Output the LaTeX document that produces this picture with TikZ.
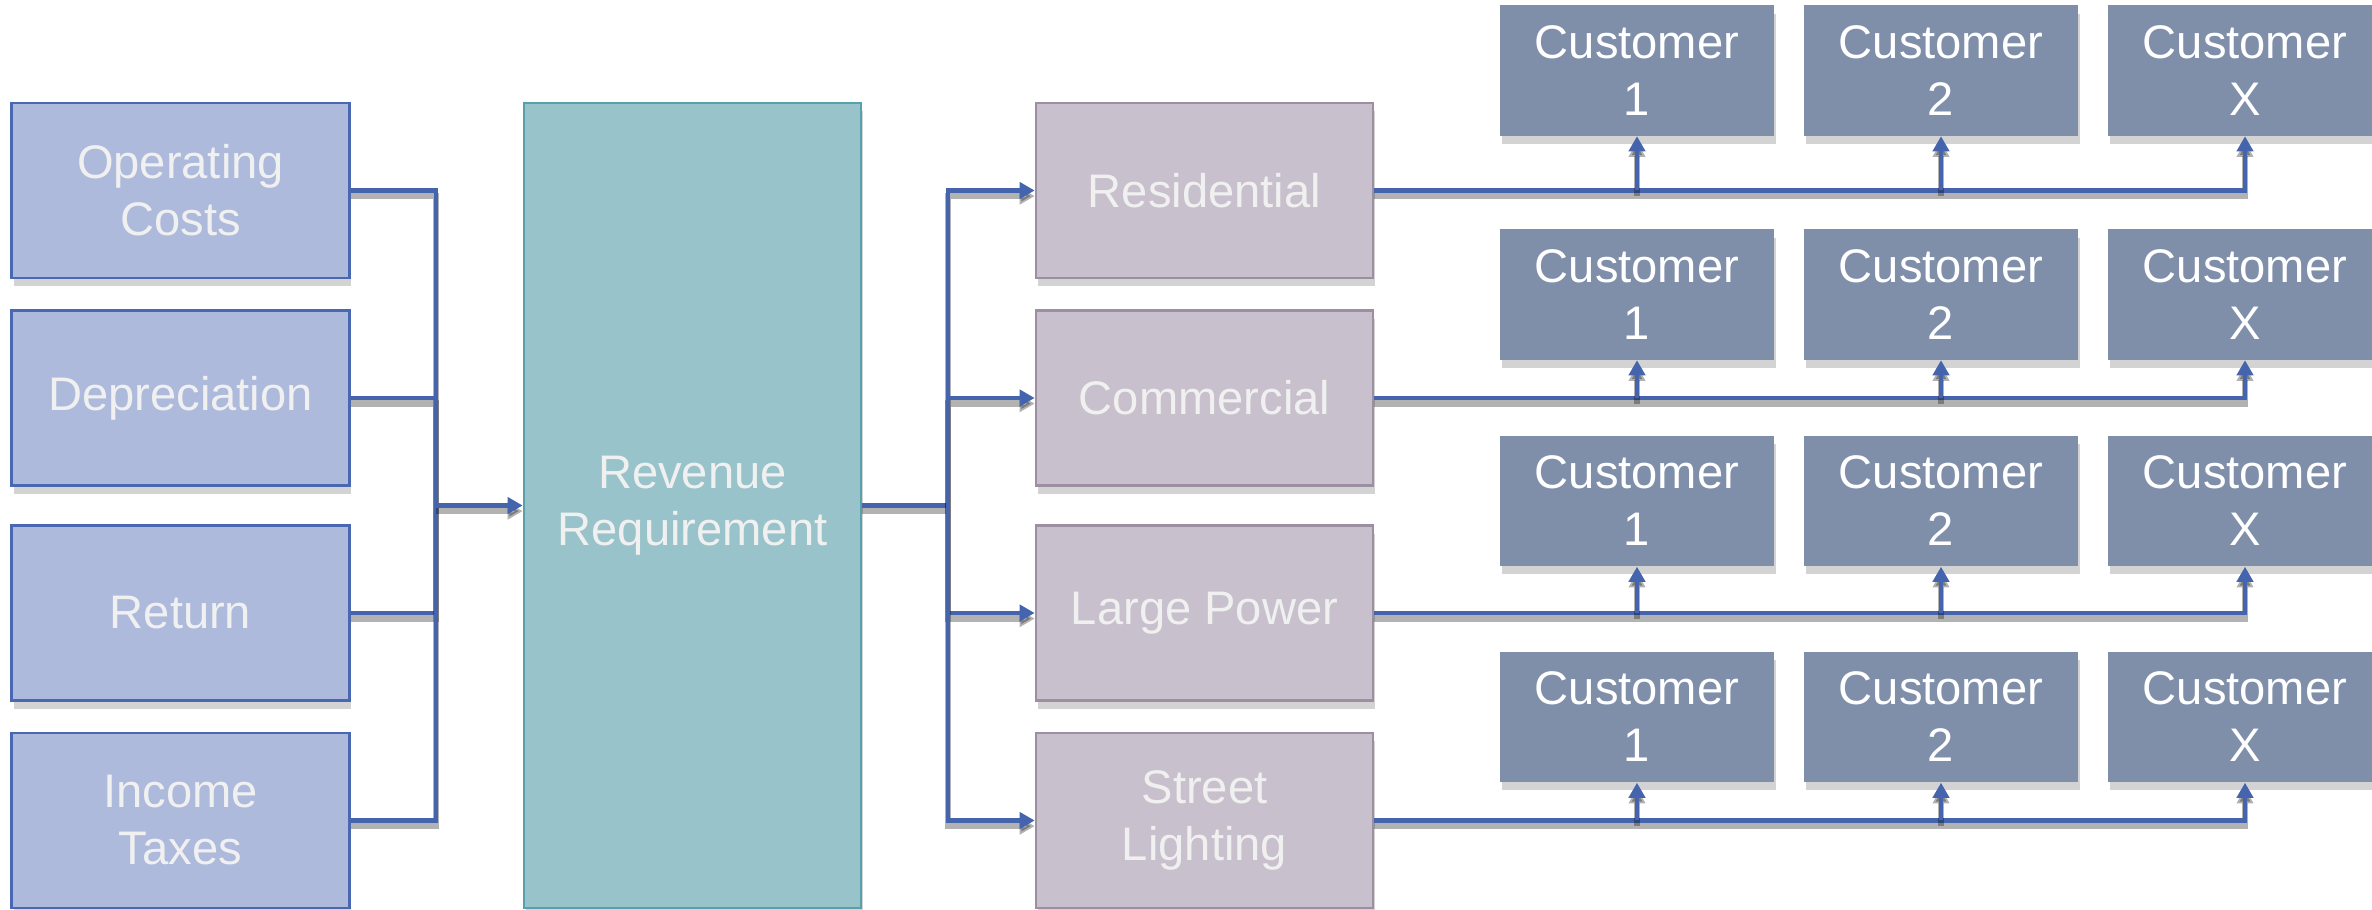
\documentclass[tikz,border=0pt]{standalone}
\usepackage{fontspec}
\setmainfont{Liberation Sans}
\usetikzlibrary{arrows.meta,shadows}
\definecolor{srcfill}{HTML}{ADBADC}
\definecolor{srcline}{HTML}{4A67B1}
\definecolor{revfill}{HTML}{99C3CA}
\definecolor{revline}{HTML}{55A2AC}
\definecolor{clsfill}{HTML}{C8C0CC}
\definecolor{clsline}{HTML}{9B8FA1}
\definecolor{custfill}{HTML}{7F8FAA}
\definecolor{linkblue}{HTML}{4464AE}
\definecolor{paletext}{HTML}{F0F0F0}

\begin{document}
\begin{tikzpicture}
        [x=0.01cm, y=-0.01cm, inner sep=0pt,
         >={Triangle[length=4.3pt, width=4.6pt]},
         box/.style={rectangle, align=center, font=\fontsize{13.4}{16.2}\selectfont,
           drop shadow={shadow xshift=0.6pt, shadow yshift=-2.4pt, opacity=0.35}},
         src/.style={box, draw=srcline, line width=0.8pt, fill=srcfill, text=paletext,
           minimum width=3.37cm, minimum height=1.75cm},
         rev/.style={box, draw=revline, line width=0.7pt, fill=revfill, text=paletext,
           minimum width=3.37cm, minimum height=8.05cm},
         cls/.style={box, draw=clsline, line width=0.7pt, fill=clsfill, text=paletext,
           minimum width=3.37cm, minimum height=1.75cm},
         cust/.style={box, fill=custfill, text=white,
           minimum width=2.74cm, minimum height=1.3cm},
         link/.style={draw=linkblue, line width=1.15pt,
           preaction={draw=black, opacity=0.3, line width=1.8pt,
             transform canvas={yshift=-1.6pt}}}]
        \useasboundingbox (0,0) rectangle (2372,910);
        % cost components
        \node (opcost) at (180.5, 190.5)[src] {Operating\\Costs};
        \node (deprec) at (180.5, 398)  [src] {Depreciation};
        \node (ret)    at (180.5, 613)  [src] {Return};
        \node (inctax) at (180.5, 820.5)[src] {Income\\Taxes};
        \node (revreq) at (692.5, 505.5)[rev] {Revenue\\Requirement};
        % rate classes
        \node (resid)  at (1204.5, 190.5)[cls] {Residential};
        \node (comm)   at (1204.5, 398)  [cls] {Commercial};
        \node (lpower) at (1204.5, 613)  [cls] {Large Power};
        \node (street) at (1204.5, 820.5)[cls] {Street\\Lighting};
        % customers
        \node (res1) at (1637,  70.5)[cust] {Customer\\1};
        \node (res2) at (1941,  70.5)[cust] {Customer\\2};
        \node (resx) at (2245,  70.5)[cust] {Customer\\X};
        \node (com1) at (1637, 294.5)[cust] {Customer\\1};
        \node (com2) at (1941, 294.5)[cust] {Customer\\2};
        \node (comx) at (2245, 294.5)[cust] {Customer\\X};
        \node (lp1)  at (1637, 501)  [cust] {Customer\\1};
        \node (lp2)  at (1941, 501)  [cust] {Customer\\2};
        \node (lpx)  at (2245, 501)  [cust] {Customer\\X};
        \node (sl1)  at (1637, 717)  [cust] {Customer\\1};
        \node (sl2)  at (1941, 717)  [cust] {Customer\\2};
        \node (slx)  at (2245, 717)  [cust] {Customer\\X};
        \coordinate (lbus) at (436, 505.5);
        \coordinate (rbus) at (948, 505.5);
        \draw [link] (opcost.east) -| (lbus);
        \draw [link] (deprec.east) -| (lbus);
        \draw [link] (ret.east) -| (lbus);
        \draw [link] (inctax.east) -| (lbus);
        \draw [link, ->] (lbus) -- (revreq.west);
        \draw [link] (revreq.east) -- (rbus);
        \draw [link, ->] (rbus) |- (resid.west);
        \draw [link, ->] (rbus) |- (comm.west);
        \draw [link, ->] (rbus) |- (lpower.west);
        \draw [link, ->] (rbus) |- (street.west);
        \draw [link, ->] (resid.east) -| (resx.south);
        \draw [link, ->] (resid.east -| res1.south) -- (res1.south);
        \draw [link, ->] (resid.east -| res2.south) -- (res2.south);
        \draw [link, ->] (comm.east) -| (comx.south);
        \draw [link, ->] (comm.east -| com1.south) -- (com1.south);
        \draw [link, ->] (comm.east -| com2.south) -- (com2.south);
        \draw [link, ->] (lpower.east) -| (lpx.south);
        \draw [link, ->] (lpower.east -| lp1.south) -- (lp1.south);
        \draw [link, ->] (lpower.east -| lp2.south) -- (lp2.south);
        \draw [link, ->] (street.east) -| (slx.south);
        \draw [link, ->] (street.east -| sl1.south) -- (sl1.south);
        \draw [link, ->] (street.east -| sl2.south) -- (sl2.south);
    \end{tikzpicture}
\end{document}
